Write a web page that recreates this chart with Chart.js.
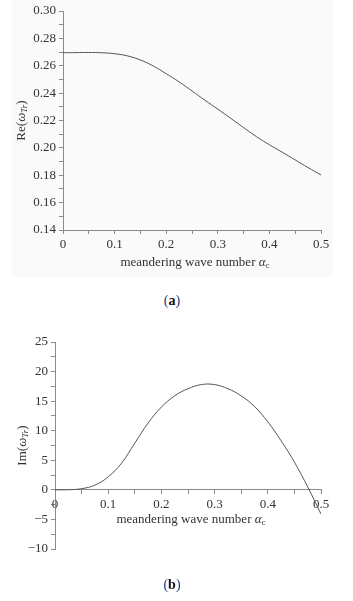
<!DOCTYPE html>
<html>
<head>
<meta charset="utf-8">
<script src="https://cdn.jsdelivr.net/npm/chart.js@4/dist/chart.umd.min.js"></script>
<style>
  body { margin: 0; background: #fff; width: 353px; height: 601px; position: relative; overflow: hidden; }
  canvas { position: absolute; left: 0; }
  #bgA { position: absolute; left: 12px; top: 0; width: 321px; height: 277px; background: #fafafa; }
  .cap { position: absolute; left: 0; width: 344px; text-align: center; font: 14px "Liberation Serif", serif; color: #1a3a8a; }
  .cap b { color: #111; }
</style>
</head>
<body>
<div id="bgA"></div>
<canvas id="chartA" width="353" height="280" style="top:0"></canvas>
<canvas id="chartB" width="353" height="291" style="top:310px"></canvas>
<div class="cap" style="top:293px">(<b>a</b>)</div>
<div class="cap" style="top:577px">(<b>b</b>)</div>
<script>
// meandering wave number
const alpha = [0, 0.025, 0.05, 0.075, 0.1, 0.125, 0.15, 0.175, 0.2, 0.225, 0.25,
  0.275, 0.3, 0.325, 0.35, 0.375, 0.4, 0.425, 0.45, 0.475, 0.5];
// Re(omega_Tr)
const reOmega = [0.2695, 0.2696, 0.2697, 0.2695, 0.2688, 0.2672, 0.2642, 0.2598, 0.2542, 0.2482, 0.2416,
  0.2348, 0.2283, 0.2216, 0.2148, 0.2082, 0.2023, 0.1968, 0.1912, 0.1856, 0.1802];
// Im(omega_Tr)
const imOmega = [0, 0.02, 0.2, 0.8, 2.2, 4.5, 7.9, 11.3, 14.0, 15.9, 17.1,
  17.8, 17.8, 17.1, 15.9, 14.1, 11.5, 8.3, 4.7, 0.5, -4.1];

const serif = '"Liberation Serif", serif';
const textCol = '#333';
const axisCol = '#8a8a8a';

// draws a label made of pieces (italic, subscript...)
function drawRich(ctx, parts, cx, cy) {
  let total = 0;
  parts.forEach(p => { ctx.font = p.f; p.w = ctx.measureText(p.t).width; total += p.w; });
  let x = cx - total / 2;
  ctx.textAlign = 'left';
  ctx.textBaseline = 'middle';
  parts.forEach(p => {
    ctx.font = p.f;
    ctx.fillText(p.t, x, cy + (p.dy || 0));
    x += p.w;
  });
}

const richTitles = {
  id: 'richTitles',
  afterDraw(chart, args, opts) {
    const ctx = chart.ctx, a = chart.chartArea;
    ctx.save();
    ctx.fillStyle = textCol;
    const axisY = chart.scales.y.getPixelForValue(opts.xAt);
    drawRich(ctx, opts.xParts, (a.left + a.right) / 2 + 3, axisY + opts.xGap);
    ctx.translate(opts.yX, (a.top + a.bottom) / 2);
    ctx.rotate(-Math.PI / 2);
    drawRich(ctx, opts.yParts, 0, 0);
    ctx.restore();
  }
};

const xTitle = [
  { t: 'meandering wave number ', f: '13px ' + serif },
  { t: 'α', f: 'italic 13px ' + serif },
  { t: 'c', f: '9px ' + serif, dy: 3 }
];
function yTitle(name) {
  return [
    { t: name + '(', f: '13px ' + serif },
    { t: 'ω', f: 'italic 13px ' + serif },
    { t: 'Tr', f: 'italic 9px ' + serif, dy: 3 },
    { t: ')', f: '13px ' + serif }
  ];
}

function points(ys) {
  return alpha.map((x, i) => ({ x: x, y: ys[i] }));
}

function xLabel(v) {
  const k = Math.round(v * 100);
  if (k % 10 !== 0) return '';
  return k === 0 ? '0' : (k / 100).toFixed(1);
}

function baseScale() {
  return {
    border: { color: axisCol, width: 1 },
    grid: { drawOnChartArea: false, tickLength: 4, color: axisCol },
    ticks: { color: textCol, font: { family: serif, size: 13 }, autoSkip: false, maxRotation: 0 }
  };
}

const lineStyle = {
  borderColor: '#555',
  borderWidth: 1,
  pointRadius: 0,
  fill: false,
  tension: 0.4
};

// (a) real part
const xA = baseScale();
Object.assign(xA, { type: 'linear', min: 0, max: 0.5, afterFit: s => { s.height = 50; } });
xA.ticks.stepSize = 0.05;
xA.ticks.padding = 3;
xA.ticks.callback = xLabel;
const yA = baseScale();
Object.assign(yA, { min: 0.14, max: 0.30, afterFit: s => { s.width = 63; } });
yA.ticks.stepSize = 0.01;
yA.ticks.padding = 3;
yA.ticks.callback = v => (Math.round(v * 100) % 2 === 0 ? v.toFixed(2) : '');

new Chart(document.getElementById('chartA'), {
  type: 'line',
  data: { datasets: [Object.assign({ data: points(reOmega) }, lineStyle)] },
  options: {
    responsive: false,
    animation: false,
    layout: { padding: { top: 11, right: 32, bottom: 0, left: 0 } },
    scales: { x: xA, y: yA },
    plugins: {
      legend: { display: false },
      tooltip: { enabled: false },
      richTitles: { xParts: xTitle, yParts: yTitle('Re'), xAt: 0.14, xGap: 33, yX: 22 }
    }
  },
  plugins: [richTitles]
});

// (b) imaginary part
const xB = baseScale();
Object.assign(xB, { type: 'linear', min: 0, max: 0.5, position: { y: 0 } });
xB.ticks.stepSize = 0.05;
xB.ticks.padding = 3;
xB.ticks.callback = xLabel;
const yB = baseScale();
Object.assign(yB, { min: -10, max: 25, afterFit: s => { s.width = 55; } });
yB.ticks.stepSize = 2.5;
yB.ticks.padding = 3;
yB.ticks.callback = v => (Math.round(v * 10) % 50 === 0 ? String(v).replace('-', '\u2212') : '');

new Chart(document.getElementById('chartB'), {
  type: 'line',
  data: { datasets: [Object.assign({ data: points(imOmega) }, lineStyle)] },
  options: {
    responsive: false,
    animation: false,
    layout: { padding: { top: 32, right: 32, bottom: 52, left: 0 } },
    scales: { x: xB, y: yB },
    plugins: {
      legend: { display: false },
      tooltip: { enabled: false },
      richTitles: { xParts: xTitle, yParts: yTitle('Im'), xAt: 0, xGap: 30, yX: 23 }
    }
  },
  plugins: [richTitles]
});
</script>
</body>
</html>
